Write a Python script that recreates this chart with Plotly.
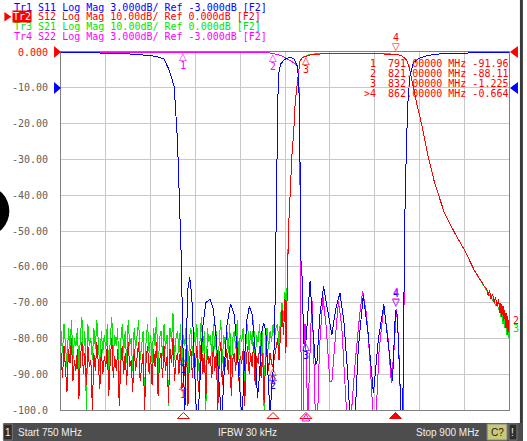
import numpy as np
import plotly.graph_objects as go

RED = "#ff0000"
GREEN = "#00e600"
BLUE = "#0000ff"
MAGENTA = "#ff00ff"
GRID = "#c8c8c8"

# sweep points of the noise floor stretch, 750 .. 822 MHz
f_floor = np.arange(750.0, 822.01, 0.5)

# S12 (dB) on the floor
s12_floor = [
    -84, -91, -82, -88, -95, -83, -87, -80, -92, -86,
    -89, -83, -97, -85, -81, -90, -84, -93, -82, -88,
    -86, -100, -84, -89, -81, -87, -94, -83, -90, -85,
    -88, -82, -96, -86, -80, -91, -85, -89, -83, -99,
    -87, -82, -90, -84, -93, -81, -88, -86, -95, -83,
    -89, -85, -81, -92, -87, -84, -100, -86, -82, -90,
    -85, -93, -83, -88, -81, -96, -86, -84, -91, -82,
    -89, -85, -98, -83, -87, -80, -92, -86, -84, -90,
    -82, -94, -92, -88, -81, -99, -86, -83, -91, -84,
    -88, -82, -95, -86, -80, -90, -84, -97, -83, -87,
    -85, -91, -82, -89, -84, -100, -86, -81, -93, -85,
    -88, -83, -90, -82, -96, -86, -84, -89, -81, -92,
    -85, -87, -83, -99, -86, -82, -90, -84, -88, -81,
    -93, -85, -87, -82, -91, -84, -98, -86, -83, -89,
    -84, -87, -88, -85, -83,
]
# S21 (dB) on the floor
s21_floor = [
    -78, -84, -76, -81, -88, -77, -83, -75, -86, -80,
    -82, -77, -90, -79, -74, -85, -78, -100, -76, -82,
    -80, -86, -77, -83, -75, -81, -89, -78, -84, -79,
    -83, -76, -91, -80, -74, -85, -79, -82, -77, -98,
    -81, -76, -84, -78, -87, -75, -82, -80, -89, -77,
    -83, -79, -75, -86, -81, -78, -100, -80, -76, -84,
    -79, -87, -77, -82, -74, -90, -80, -78, -85, -76,
    -83, -79, -99, -77, -81, -73, -86, -80, -78, -84,
    -76, -88, -79, -82, -75, -93, -80, -77, -85, -78,
    -82, -76, -89, -80, -74, -84, -78, -100, -77, -81,
    -79, -85, -76, -83, -78, -92, -80, -75, -87, -79,
    -82, -77, -84, -76, -90, -80, -78, -83, -75, -86,
    -79, -81, -77, -97, -80, -76, -84, -78, -82, -75,
    -87, -79, -81, -76, -85, -78, -100, -80, -77, -83,
    -78, -81, -76, -80, -77,
]

# S12 / S21 above the floor
f_pass = [822.5, 823, 823.5, 824, 824.5, 825, 825.3, 825.7, 826.2, 826.8,
          827.3, 827.9, 828.4, 829, 829.6, 830, 830.8, 831.8, 832, 833,
          835, 840, 845, 850, 855, 860, 862, 864, 865.7, 866.8,
          868, 869, 870.7, 872.9, 875.1, 878.4, 881.8, 885.1, 888.4, 891.8,
          892.5, 893, 893.5, 894, 894.5, 895, 895.5, 896, 896.5, 897,
          897.3, 897.6, 898, 898.3, 898.6, 899, 899.3, 899.6, 900]
s12_pass = [-80, -86, -77, -72, -79, -69, -84, -64, -49, -38.5,
            -29, -22.7, -14.3, -9.7, -5, -2.5, -1.6, -1.25, -1.225, -0.9,
            -0.6, -0.4, -0.35, -0.35, -0.4, -0.5, -0.664, -1.0, -2.2, -5,
            -10, -14, -20, -29, -36.6, -45, -50.5, -55.3, -61, -65.5,
            -66, -68, -66.5, -69, -67.5, -70, -68.5, -71, -69, -73,
            -70, -74, -71, -75, -72, -77, -73, -79, -75]
s21_pass = [-76, -82, -74, -70, -75, -67, -78, -63, -49, -38.5,
            -29, -22.7, -14.3, -9.7, -5, -2.5, -1.5, -1.2, -1.2, -0.8,
            -0.5, -0.3, -0.3, -0.3, -0.35, -0.45, -0.6, -1.0, -2.2, -5,
            -10, -14, -20, -29, -36.6, -45, -50.5, -55.3, -61, -65.5,
            -66.5, -67, -68, -68, -69.5, -69, -71, -70, -72, -71,
            -74, -72, -76, -73, -77, -74, -79, -75, -80]

# S11 (dB, 3 dB/div)
f_s11 = [750, 769, 775, 780, 783, 784.5, 786.2, 787.9, 789, 789.6,
         790.1, 790.4, 790.7, 791, 791.4, 791.9, 792.4, 793.1, 793.8, 794.5,
         795.2, 795.8, 796.6, 797.5, 798.5, 799.9, 801, 802, 803, 803.8,
         804.6, 805.5, 806.8, 808, 809, 810, 810.6, 811.4, 812.2, 813.1,
         814, 815, 815.8, 816.5, 817.2, 817.9, 818.6, 819.3, 820, 820.6,
         821, 821.5, 821.8, 822.1, 822.3, 822.6, 822.9, 823.5, 825, 826.8,
         828, 829, 829.3, 829.6, 829.9, 830.1, 830.4, 830.7, 831.3, 832,
         832.6, 833.4, 834.3, 835.2, 835.7, 836.7, 837.9, 839.2, 840.7, 842,
         843.4, 844.7, 846, 846.8, 848.4, 849.5, 851.2, 852.8, 854.6, 856.3,
         858.1, 859.6, 861, 861.6, 862, 862.6, 863.3, 864, 864.4, 864.8,
         865.1, 865.7, 866.2, 866.8, 867.9, 868.4, 870.1, 872, 875, 880,
         890, 900]
s11 = [-0.05, -0.1, -0.2, -0.3, -0.45, -0.6, -1.5, -2.9, -7.4, -11.6,
       -14.7, -18.3, -24, -25.5, -31, -26, -20, -18.9, -20.5, -25,
       -29.5, -31, -27, -23, -21, -20.7, -21.5, -24, -28, -31,
       -27, -23, -21.1, -22, -25, -29.5, -31, -26, -22.5, -21.3,
       -22, -25, -29, -27, -23.5, -22.7, -23.5, -27, -30.5, -28,
       -26.8, -24, -18, -12, -7.4, -4, -1.8, -1.0, -0.6, -0.44,
       -0.6, -1.1, -1.6, -2.3, -6, -11, -18.5, -18.8, -24.5, -24.3,
       -22, -19.2, -23, -26.2, -26, -22, -19.65, -21.5, -23.7, -21.5,
       -20.2, -22.5, -27, -31, -31, -25, -20.4, -23.5, -28.6, -24,
       -21.15, -24.5, -27.6, -24, -21.6, -22, -27, -31, -31, -18.3,
       -14.1, -7.4, -4.0, -2.1, -0.93, -0.8, -0.5, -0.35, -0.2, -0.1,
       -0.06, -0.05]

# S22 (dB, 3 dB/div)
f_s22 = [750, 780, 815, 820, 822.9, 824.5, 826.2, 828.4, 829.3, 829.7,
         830, 830.2, 830.5, 831, 831.3, 831.7, 832.2, 832.6, 833.2, 834,
         834.7, 835.2, 835.9, 836.5, 837.7, 838.8, 840, 840.7, 841.5, 842.9,
         844, 845, 845.8, 847, 848.5, 850, 851, 852.3, 853.5, 854.6,
         855.4, 856.5, 858.1, 859.5, 860.6, 861.5, 862.3, 863, 863.9, 864.5,
         864.8, 865.1, 865.7, 866.2, 866.8, 867.9, 868.4, 870.1, 872, 875,
         880, 890, 900]
s22 = [-0.02, -0.02, -0.03, -0.08, -0.24, -0.4, -0.66, -0.96, -1.3, -3,
       -10, -18.3, -31, -31, -25, -22.8, -26, -31, -26, -20.5,
       -26, -31, -31, -25, -20.5, -23, -27.6, -27.6, -25, -20.9,
       -23, -27, -31, -31, -26, -22, -20, -22, -26, -31,
       -31, -25, -21.3, -24, -27.7, -25, -21.5, -24, -31, -31,
       -18.3, -14.1, -7.4, -4.0, -2.1, -0.93, -0.8, -0.5, -0.35, -0.2,
       -0.1, -0.06, -0.05]

# markers
mk_freq = [791, 821, 832, 862]
mk_s12 = [-91.96, -88.11, -1.225, -0.664]
mk_s11 = [-25.5, -26.8, -24.3, -21.6]
mk_s22 = [-0.03, -0.08, None, -21.5]

y_ticks = [0, -10, -20, -30, -40, -50, -60, -70, -80, -90, -100]
y_text = ['<span style="color:#ff0000">0.000</span>', "-10.00", "-20.00", "-30.00",
          "-40.00", "-50.00", "-60.00", "-70.00", "-80.00", "-90.00", "-100.0"]

header = [
    ("Tr1 S11 Log Mag 3.000dB/ Ref -3.000dB [F2]", BLUE, 9),
    ("S12 Log Mag 10.00dB/ Ref 0.000dB [F2]", RED, 33),
    ("Tr3 S21 Log Mag 10.00dB/ Ref 0.000dB [F2]", GREEN, 9),
    ("Tr4 S22 Log Mag 3.000dB/ Ref -3.000dB [F2]", MAGENTA, 9),
]

MONO = "DejaVu Sans Mono"


def px(x):
    return (x - 58) / 451


def py(y):
    return (410 - y) / 358


fig = go.Figure()
fig.add_trace(go.Scatter(x=list(f_floor) + f_pass, y=s21_floor + s21_pass,
                         mode="lines", line=dict(color=GREEN, width=1)))
fig.add_trace(go.Scatter(x=list(f_floor) + f_pass, y=s12_floor + s12_pass,
                         mode="lines", line=dict(color=RED, width=1)))
fig.add_trace(go.Scatter(x=f_s22, y=s22, mode="lines", yaxis="y2",
                         line=dict(color=MAGENTA, width=1)))
fig.add_trace(go.Scatter(x=f_s11, y=s11, mode="lines", yaxis="y2",
                         line=dict(color=BLUE, width=1)))

ann = []
shapes = []


def note(x, y, text, color, size=10, xanchor="left", yanchor="middle",
         xref="paper", yref="paper", font=MONO, **kw):
    ann.append(dict(x=x, y=y, xref=xref, yref=yref, text=text, showarrow=False,
                    xanchor=xanchor, yanchor=yanchor,
                    font=dict(family=font, size=size, color=color), **kw))


# header lines
for i, (txt, col, x0) in enumerate(header):
    note(px(x0), py(7 + i * 9.7), txt, col)
note(px(9), py(16.7), "Tr2", "white", bgcolor=RED, borderpad=0)
shapes.append(dict(type="path", xref="paper", yref="paper", fillcolor=RED, line_width=0,
                   path=f"M {px(1)},{py(12)} L {px(8)},{py(16.7)} L {px(1)},{py(21.5)} Z"))

# marker readout
for i, (f, v) in enumerate(zip(mk_freq, mk_s12)):
    lead = ">" if i == 3 else " "
    note(px(511), py(64 + i * 9.9), f"{lead}{i + 1}  {f:.5f} MHz {v:.4g}", RED,
         xanchor="right")


# trace markers: open triangle pointing at the point, number under it
def trace_marker(f, v, n, col, yref, active=False):
    if active:
        note(f, v, "▽", col, size=10, xanchor="center", yanchor="bottom",
             xref="x", yref=yref, font="DejaVu Sans", yshift=0)
        note(f, v, str(n), col, size=10, xanchor="center", yanchor="bottom",
             xref="x", yref=yref, yshift=9)
    else:
        note(f, v, "△", col, size=10, xanchor="center", yanchor="top",
             xref="x", yref=yref, font="DejaVu Sans", yshift=3)
        note(f, v, str(n), col, size=10, xanchor="center", yanchor="top",
             xref="x", yref=yref, yshift=-6)


for i, f in enumerate(mk_freq):
    trace_marker(f, mk_s12[i], i + 1, RED, "y", active=(i == 3))
    trace_marker(f, mk_s11[i], i + 1, BLUE, "y2", active=(i == 3))
    if mk_s22[i] is not None:
        trace_marker(f, mk_s22[i], i + 1, MAGENTA, "y2", active=(i == 3))

# marker position triangles under the grid
for i, f in enumerate(mk_freq):
    shapes.append(dict(type="path", xref="x", yref="paper", line=dict(color=RED, width=1),
                       fillcolor=RED if i == 3 else "rgba(0,0,0,0)",
                       path=f"M {f - 2},{py(418.5)} L {f},{py(412.5)} L {f + 2},{py(418.5)} Z"))
shapes.append(dict(type="path", xref="x", yref="paper", line=dict(color=MAGENTA, width=1),
                   path=f"M {mk_freq[2] - 1.3},{py(421)} L {mk_freq[2]},{py(414)} L {mk_freq[2] + 1.3},{py(421)} Z"))

# trace end labels
note(px(511), py(320), "2", RED)
note(px(511), py(328), "3", GREEN)

# reference level arrows
for yy, col in [(52, RED), (88, BLUE)]:
    shapes.append(dict(type="path", xref="paper", yref="paper", fillcolor=col, line_width=0,
                       path=f"M {px(51)},{py(yy - 6)} L {px(58)},{py(yy)} L {px(51)},{py(yy + 6)} Z"))
    shapes.append(dict(type="path", xref="paper", yref="paper", fillcolor=col, line_width=0,
                       path=f"M {px(518)},{py(yy - 6)} L {px(510)},{py(yy)} L {px(518)},{py(yy + 6)} Z"))

# window bits: right edge bar, status bar, stray blob on the left
shapes.append(dict(type="rect", xref="paper", yref="paper", x0=px(520), x1=px(523),
                   y0=py(441), y1=py(0), fillcolor="#3a3a3a", line_width=0))
shapes.append(dict(type="rect", xref="paper", yref="paper", x0=px(0), x1=px(523),
                   y0=py(441), y1=py(423), fillcolor="#4d4d4d", line_width=0))
shapes.append(dict(type="rect", xref="paper", yref="paper", x0=px(0), x1=px(9),
                   y0=py(440), y1=py(424), fillcolor="#2e2e2e", line=dict(color="#777", width=1)))
shapes.append(dict(type="rect", xref="paper", yref="paper", x0=px(487), x1=px(507),
                   y0=py(440), y1=py(424), fillcolor="#c8c878", line=dict(color="#888", width=1)))
shapes.append(dict(type="rect", xref="paper", yref="paper", x0=px(509), x1=px(517),
                   y0=py(440), y1=py(424), fillcolor="#2e2e2e", line=dict(color="#777", width=1)))
shapes.append(dict(type="circle", xref="paper", yref="paper", x0=px(-42), x1=px(6),
                   y0=py(236), y1=py(186), fillcolor="black", line_width=0))

SANS = "Liberation Sans"
note(px(4.5), py(432), "1", "#f0f0f0", size=10, xanchor="center", font=SANS)
note(px(13), py(432), "Start 750 MHz", "#f0f0f0", size=10, font=SANS)
note(px(246), py(432), "IFBW 30 kHz", "#f0f0f0", size=10, xanchor="center", font=SANS)
note(px(481), py(432), "Stop 900 MHz", "#f0f0f0", size=10, xanchor="right", font=SANS)
note(px(497), py(432), "C?", "#202020", size=10, xanchor="center", font=SANS)
note(px(513), py(432), "!", "#f0f0f0", size=10, xanchor="center", font=SANS)

fig.update_layout(
    width=527, height=441,
    margin=dict(l=58, r=18, t=52, b=31),
    paper_bgcolor="white", plot_bgcolor="white",
    showlegend=False,
    xaxis=dict(range=[750, 900], dtick=15, tick0=750, showticklabels=False, ticks="",
               showgrid=True, gridcolor=GRID, gridwidth=1, zeroline=False,
               showline=True, mirror=True, linecolor="#808080", linewidth=1,
               layer="below traces"),
    yaxis=dict(range=[-100, 0], tickvals=y_ticks, ticktext=y_text, ticks="",
               ticklabelstandoff=10, tickfont=dict(family=MONO, size=10, color="#606060"),
               showgrid=True, gridcolor=GRID, gridwidth=1, zeroline=False,
               showline=True, mirror=True, linecolor="#808080", linewidth=1,
               layer="below traces"),
    yaxis2=dict(range=[-30, 0], overlaying="y", visible=False),
    annotations=ann,
    shapes=shapes,
)

# the page body has a default margin; drop it so the figure fills the window,
# and draw the traces without antialiasing like the analyser screen does
js = ("document.body.style.margin='0';"
      "document.querySelectorAll('.scatterlayer .js-line').forEach("
      "function(p){p.style.shapeRendering='crispEdges';});")
fig.write_html("out.html", config={"displayModeBar": False}, post_script=js)
